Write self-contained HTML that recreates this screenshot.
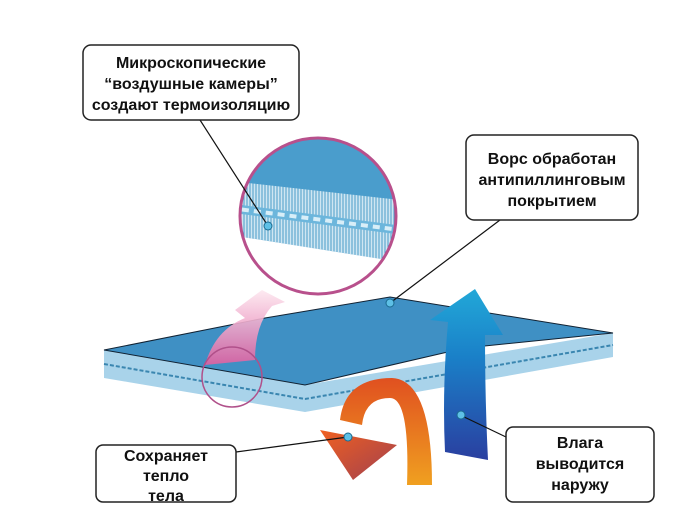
<!DOCTYPE html>
<html><head><meta charset="utf-8"><style>
body{margin:0;background:#fff;}
svg{display:block;}
text{font-family:"Liberation Sans",sans-serif;font-size:16px;font-weight:bold;fill:#111;text-anchor:middle;}
</style></head><body>
<svg width="681" height="520" viewBox="0 0 681 520" xmlns="http://www.w3.org/2000/svg">
<defs>
<linearGradient id="pk" x1="0" y1="1" x2="0" y2="0"><stop offset="0" stop-color="#e060a0"/><stop offset="1" stop-color="#fde8f0"/></linearGradient>
<linearGradient id="bl" x1="0" y1="1" x2="0" y2="0"><stop offset="0" stop-color="#2a3fa0"/><stop offset="0.6" stop-color="#1a80c8"/><stop offset="1" stop-color="#22a8d8"/></linearGradient>
<linearGradient id="or" x1="0" y1="1" x2="0" y2="0"><stop offset="0" stop-color="#f0a020"/><stop offset="1" stop-color="#e05020"/></linearGradient>
<linearGradient id="or2" x1="0" y1="0" x2="1" y2="1"><stop offset="0" stop-color="#f06020"/><stop offset="1" stop-color="#a04050"/></linearGradient>
<clipPath id="cc"><circle cx="318" cy="216" r="78"/></clipPath>
<pattern id="fib" width="3" height="10" patternUnits="userSpaceOnUse"><rect width="3" height="10" fill="#cfe6f2"/><line x1="1" y1="0" x2="1" y2="10" stroke="#4a9cc8" stroke-width="1"/></pattern>
</defs>
<!-- slab -->
<polygon points="104,350 305,385 613,333 613,357 305,412 104,378" fill="#a9d3ea"/>
<path d="M104,364 L305,399 L613,345" stroke="#3a86b0" stroke-width="2" stroke-dasharray="4,2" fill="none"/>
<polygon points="104,350 265,318 390,297 613,333 465,348 305,385" fill="#3f90c4" stroke="#123" stroke-width="1"/>
<!-- pink arrow -->
<path d="M205,365 Q215,330 245,318 L235,310 L262,290 L285,302 L272,306 Q255,325 255,360 Z" fill="url(#pk)" opacity="0.9"/>
<circle cx="232" cy="377" r="30" fill="none" stroke="#b0508a" stroke-width="1.5"/>
<!-- magnifier -->
<circle cx="318" cy="216" r="78" fill="#4a9dcc"/>
<g clip-path="url(#cc)">
<polygon points="230,181 400,200 400,262 230,235" fill="url(#fib)"/>
<path d="M230,208 L400,230" stroke="#6cb6dc" stroke-width="9"/>
<path d="M230,208 L400,230" stroke="#d8eef8" stroke-width="4" stroke-dasharray="7,5"/>
<polygon points="230,235 400,262 400,300 230,300" fill="#fff"/>
</g>
<circle cx="318" cy="216" r="78" fill="none" stroke="#b8508c" stroke-width="3"/>
<!-- orange arrows -->
<path d="M340,420 Q345,378 392,378 Q432,380 432,485 L407,485 Q410,398 390,398 Q365,398 362,425 Z" fill="url(#or)"/>
<polygon points="320,430 397,445 353,480" fill="url(#or2)"/>
<!-- blue arrow -->
<path d="M445,452 L488,460 Q485,400 485,335 L503,335 L475,289 L430,320 L448,322 Q442,390 445,452 Z" fill="url(#bl)"/>
<!-- connectors -->
<g stroke="#111" stroke-width="1.2" fill="none">
<line x1="200" y1="120" x2="268" y2="226"/>
<line x1="390" y1="303" x2="500" y2="220"/>
<line x1="236" y1="452" x2="348" y2="437"/>
<line x1="460" y1="415" x2="506" y2="437"/>
</g>
<g fill="#5ec0e6" stroke="#1a6a90" stroke-width="1">
<circle cx="268" cy="226" r="4"/><circle cx="390" cy="303" r="4"/><circle cx="348" cy="437" r="4"/><circle cx="461" cy="415" r="4"/>
</g>
<!-- boxes -->
<g fill="#fff" stroke="#222" stroke-width="1.5">
<rect x="83" y="45" width="216" height="75" rx="8"/>
<rect x="466" y="135" width="172" height="85" rx="8"/>
<rect x="96" y="445" width="140" height="57" rx="7"/>
<rect x="506" y="427" width="148" height="75" rx="7"/>
</g>
<text x="191" y="68">Микроскопические</text>
<text x="191" y="89">“воздушные камеры”</text>
<text x="191" y="110">создают термоизоляцию</text>
<text x="552" y="164">Ворс обработан</text>
<text x="552" y="185">антипиллинговым</text>
<text x="552" y="206">покрытием</text>
<text x="166" y="461" font-size="15">Сохраняет</text>
<text x="166" y="481" font-size="15">тепло</text>
<text x="166" y="501" font-size="15">тела</text>
<text x="580" y="448">Влага</text>
<text x="580" y="469">выводится</text>
<text x="580" y="490">наружу</text>
</svg>
</body></html>
